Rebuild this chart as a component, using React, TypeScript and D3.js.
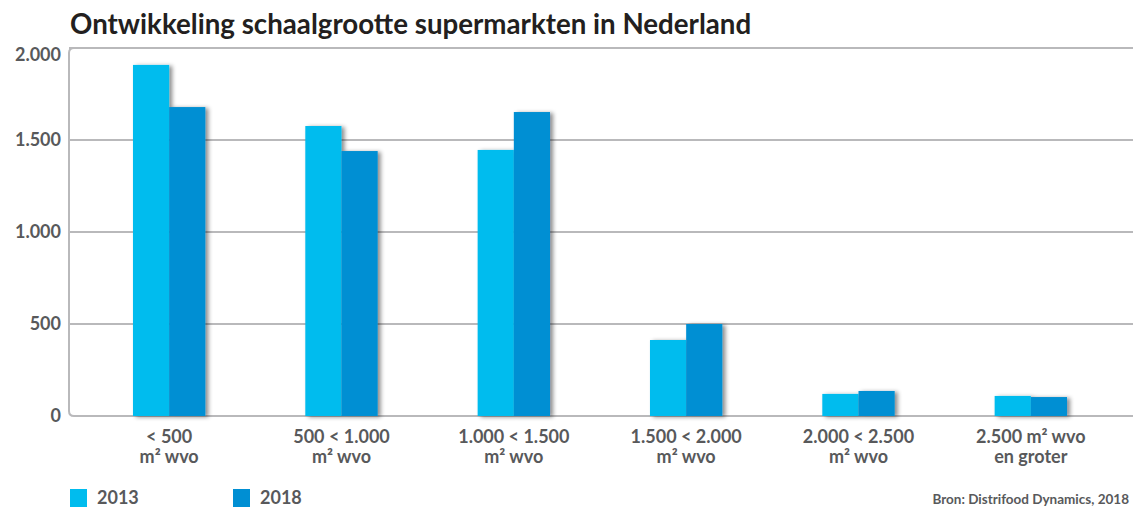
import { useRef, useEffect } from "react";
import * as d3 from "d3";

const categories = [
  ["< 500", "m² wvo"],
  ["500 < 1.000", "m² wvo"],
  ["1.000 < 1.500", "m² wvo"],
  ["1.500 < 2.000", "m² wvo"],
  ["2.000 < 2.500", "m² wvo"],
  ["2.500 m² wvo", "en groter"],
];
const series = ["2013", "2018"];
const values2013 = [1908, 1576, 1446, 413, 120, 109];
const values2018 = [1679, 1440, 1652, 500, 136, 103];
const yTicks = [0, 500, 1000, 1500, 2000];
const yTickLabels = ["0", "500", "1.000", "1.500", "2.000"];

const colors = ["#00bcee", "#008fd3"];

const App = () => {
  const svgRef = useRef<SVGSVGElement | null>(null);
  const width = 1133;
  const height = 507;

  useEffect(() => {
    document.body.style.margin = "0";
    if (!svgRef.current) return;

    const svg = d3.select(svgRef.current);
    svg.selectAll("*").remove();

    const defs = svg.append("defs");
    const filter = defs
      .append("filter")
      .attr("id", "shadow")
      .attr("x", "-20%")
      .attr("y", "-20%")
      .attr("width", "150%")
      .attr("height", "150%");
    filter
      .append("feDropShadow")
      .attr("dx", 3)
      .attr("dy", 1)
      .attr("stdDeviation", 2)
      .attr("flood-color", "#000")
      .attr("flood-opacity", 0.45);

    const axisLeft = 69;
    const y0 = 416;
    const y1 = 48;

    const yScale = d3.scaleLinear().domain([0, 2000]).range([y0, y1]);

    const xScale = d3
      .scaleBand<number>()
      .domain(categories.map((_, i) => i))
      .range([83, 1117])
      .paddingInner(0.58)
      .paddingOuter(0.29);

    const xSub = d3
      .scaleBand<string>()
      .domain(series)
      .range([0, xScale.bandwidth()]);

    // title
    svg
      .append("text")
      .attr("x", 70)
      .attr("y", 34)
      .attr("font-family", "Lato")
      .attr("font-weight", 700)
      .attr("font-size", 27.7)
      .attr("fill", "#231f20")
      .text("Ontwikkeling schaalgrootte supermarkten in Nederland");

    // gridlines
    svg
      .append("g")
      .selectAll("line")
      .data(yTicks.filter((t) => t > 0))
      .enter()
      .append("line")
      .attr("x1", axisLeft)
      .attr("x2", width)
      .attr("y1", (d) => yScale(d))
      .attr("y2", (d) => yScale(d))
      .attr("stroke", "#b9b9bb")
      .attr("stroke-width", 2);

    // axis frame (left + baseline with rounded corners)
    const r = 5;
    svg
      .append("path")
      .attr(
        "d",
        `M${axisLeft + r},${y1} Q${axisLeft},${y1} ${axisLeft},${y1 + r} L${axisLeft},${y0 - r} Q${axisLeft},${y0} ${axisLeft + r},${y0} L${width},${y0}`
      )
      .attr("fill", "none")
      .attr("stroke", "#b9b9bb")
      .attr("stroke-width", 2);

    // y labels
    svg
      .append("g")
      .selectAll("text")
      .data(yTicks)
      .enter()
      .append("text")
      .attr("x", 61)
      .attr("y", (d) => Math.max(yScale(d), 55))
      .attr("dy", "0.35em")
      .attr("text-anchor", "end")
      .attr("font-family", "Lato")
      .attr("font-weight", 700)
      .attr("font-size", 18)
      .attr("fill", "#58595b")
      .text((_, i) => yTickLabels[i]);

    // bars
    const rows = categories.map((_, i) => [
      { s: series[0], v: values2013[i] },
      { s: series[1], v: values2018[i] },
    ]);
    const groups = svg
      .append("g")
      .selectAll("g")
      .data(rows)
      .enter()
      .append("g")
      .attr("transform", (_, i) => `translate(${xScale(i)},0)`)
      .attr("filter", "url(#shadow)");
    groups
      .selectAll("rect")
      .data((d) => d)
      .enter()
      .append("rect")
      .attr("x", (d) => xSub(d.s)!)
      .attr("y", (d) => yScale(d.v))
      .attr("width", xSub.bandwidth())
      .attr("height", (d) => y0 - yScale(d.v))
      .attr("fill", (_, i) => colors[i]);

    // x labels, two lines each
    [0, 1].forEach((line) => {
      svg
        .append("g")
        .selectAll("text")
        .data(categories)
        .enter()
        .append("text")
        .attr("x", (_, i) => xScale(i)! + xScale.bandwidth() / 2)
        .attr("y", 443 + line * 20)
        .attr("text-anchor", "middle")
        .attr("font-family", "Lato")
        .attr("font-weight", 700)
        .attr("font-size", 18)
        .attr("fill", "#58595b")
        .text((d) => d[line]);
    });

    // legend
    const legendX = [70, 233];
    series.forEach((s, i) => {
      svg
        .append("rect")
        .attr("x", legendX[i])
        .attr("y", 489)
        .attr("width", 17)
        .attr("height", 18)
        .attr("fill", colors[i]);
      svg
        .append("text")
        .attr("x", legendX[i] + 27)
        .attr("y", 504)
        .attr("font-family", "Lato")
        .attr("font-weight", 700)
        .attr("font-size", 18)
        .attr("fill", "#58595b")
        .text(s);
    });

    // source
    svg
      .append("text")
      .attr("x", 1129)
      .attr("y", 504)
      .attr("text-anchor", "end")
      .attr("font-family", "Lato")
      .attr("font-weight", 700)
      .attr("font-size", 13.5)
      .attr("fill", "#58595b")
      .text("Bron: Distrifood Dynamics, 2018");
  }, []);

  return (
    <div style={{ width, height, overflow: "hidden" }}>
      <svg ref={svgRef} width={width} height={height}></svg>
    </div>
  );
};

export default App;
